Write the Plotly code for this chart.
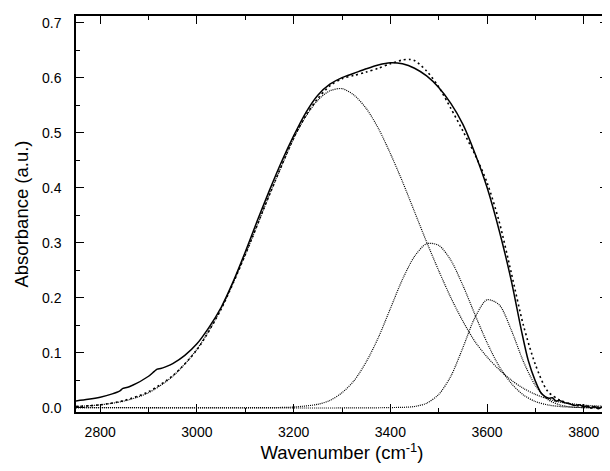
import plotly.graph_objects as go

# Experimental spectrum (solid)
exp_x = [2750, 2775, 2800, 2825, 2840, 2847, 2852, 2860, 2875, 2900, 2912, 2918, 2925, 2935, 2950,
         2975, 3000, 3025, 3050, 3075, 3100, 3125, 3150, 3175, 3200, 3225, 3250, 3275, 3300, 3325,
         3350, 3375, 3400, 3425, 3450, 3475, 3500, 3525, 3550, 3575, 3600, 3625, 3650, 3671,
         3685, 3699, 3712, 3720, 3728, 3735, 3742, 3750, 3760, 3770, 3780, 3790, 3800, 3808, 3815,
         3822, 3830, 3838, 3845, 3850]
exp_y = [0.012, 0.015, 0.019, 0.025, 0.030, 0.035, 0.036, 0.038, 0.044, 0.057, 0.066, 0.070, 0.071, 0.074, 0.080,
         0.095, 0.116, 0.146, 0.182, 0.229, 0.283, 0.340, 0.395, 0.447, 0.494, 0.536, 0.568, 0.588, 0.600, 0.608,
         0.616, 0.623, 0.627, 0.625, 0.617, 0.603, 0.582, 0.553, 0.515, 0.462, 0.400, 0.322, 0.231, 0.140,
         0.086, 0.050, 0.026, 0.020, 0.017, 0.018, 0.012, 0.013, 0.009, 0.007, 0.004, 0.005, 0.002, 0.003, -0.001,
         0.002, -0.002, 0.001, -0.002, 0.000]

# Fitted sum (dotted)
fit_x = [2750, 2800, 2850, 2900, 2950, 3000, 3050, 3100, 3150, 3200, 3225, 3250, 3275, 3300, 3325, 3350,
         3375, 3400, 3425, 3440, 3450, 3475, 3500, 3525, 3550, 3575, 3600, 3625, 3650, 3675, 3700, 3725,
         3750, 3775, 3800, 3850]
fit_y = [0.002, 0.005, 0.013, 0.029, 0.058, 0.105, 0.179, 0.278, 0.387, 0.490, 0.531, 0.562, 0.585, 0.598, 0.604, 0.610,
         0.617, 0.625, 0.632, 0.633, 0.631, 0.612, 0.583, 0.544, 0.503, 0.460, 0.409, 0.338, 0.245, 0.150, 0.078, 0.030,
         0.014, 0.006, 0.002, 0.001]

# Component bands
c1_x = [2750, 2800, 2850, 2900, 2950, 3000, 3050, 3100, 3150, 3200, 3225, 3250, 3275, 3300, 3325, 3350, 3375,
        3400, 3425, 3450, 3475, 3500, 3525, 3550, 3575, 3600, 3625, 3650, 3675, 3700, 3725, 3750, 3800, 3850]
c1_y = [0.002, 0.005, 0.012, 0.027, 0.057, 0.106, 0.180, 0.278, 0.387, 0.489, 0.529, 0.559, 0.576, 0.580, 0.568, 0.544, 0.508,
        0.462, 0.411, 0.356, 0.301, 0.249, 0.200, 0.157, 0.120, 0.092, 0.069, 0.050, 0.035, 0.024, 0.016, 0.010, 0.0045, 0.002]

c2_x = [2750, 3150, 3200, 3250, 3275, 3300, 3325, 3350, 3375, 3400, 3425, 3450, 3475, 3500, 3525, 3550,
        3575, 3600, 3625, 3650, 3675, 3700, 3725, 3750, 3800, 3850]
c2_y = [0.0, 0.0, 0.001, 0.006, 0.013, 0.027, 0.049, 0.083, 0.127, 0.180, 0.233, 0.275, 0.298, 0.295, 0.268, 0.222,
        0.169, 0.118, 0.075, 0.044, 0.023, 0.011, 0.005, 0.002, 0.0, 0.0]

c3_x = [2750, 3400, 3450, 3475, 3500, 3525, 3550, 3575, 3600, 3625, 3650, 3675, 3700, 3725, 3750, 3775, 3800, 3850]
c3_y = [0.0, 0.0, 0.002, 0.008, 0.024, 0.057, 0.109, 0.164, 0.196, 0.187, 0.141, 0.084, 0.040, 0.015, 0.005, 0.001, 0.0, 0.0]

fig = go.Figure()
comp_line = dict(color="black", width=1.2, dash="1px,1px", shape="spline", smoothing=0.8)
for cx, cy in [(c1_x, c1_y), (c2_x, c2_y), (c3_x, c3_y)]:
    fig.add_trace(go.Scatter(x=cx, y=cy, mode="lines", line=comp_line, showlegend=False, hoverinfo="skip"))
fig.add_trace(go.Scatter(x=fit_x, y=fit_y, mode="lines",
                         line=dict(color="black", width=1.6, dash="2px,3px", shape="spline", smoothing=0.8),
                         showlegend=False))
fig.add_trace(go.Scatter(x=exp_x, y=exp_y, mode="lines",
                         line=dict(color="black", width=1.5, shape="spline", smoothing=0.8),
                         showlegend=False))

font = "Liberation Sans, Arial, sans-serif"
fig.update_layout(
    width=602, height=463,
    margin=dict(l=68, r=0, t=8, b=59),
    paper_bgcolor="white", plot_bgcolor="white",
    font=dict(family=font, color="black", size=14),
)
fig.update_xaxes(
    range=[2750, 3850], tick0=2800, dtick=200, ticks="inside", ticklen=8, tickwidth=1.3,
    tickcolor="black", showline=True, linecolor="black", linewidth=1.5, mirror="allticks",
    showgrid=False, zeroline=False, ticklabelstandoff=6,
    tickfont=dict(size=14, family=font),
    minor=dict(dtick=100, ticks="inside", ticklen=4, tickwidth=1.2, tickcolor="black", showgrid=False),
    title=dict(text="Wavenumber (cm<sup>-1</sup>)", font=dict(size=18.5, family=font), standoff=8),
)
fig.update_yaxes(
    range=[-0.008, 0.712], tick0=0, dtick=0.1, tickformat=".1f", ticks="inside", ticklen=8, tickwidth=1.3,
    tickcolor="black", showline=True, linecolor="black", linewidth=1.5, mirror="allticks",
    showgrid=False, zeroline=False, ticklabelstandoff=10,
    tickfont=dict(size=14, family=font),
    minor=dict(dtick=0.05, ticks="inside", ticklen=4, tickwidth=1.2, tickcolor="black", showgrid=False),
    title=dict(text="Absorbance (a.u.)", font=dict(size=18.5, family=font), standoff=9),
)

fig.write_html("out.html")
